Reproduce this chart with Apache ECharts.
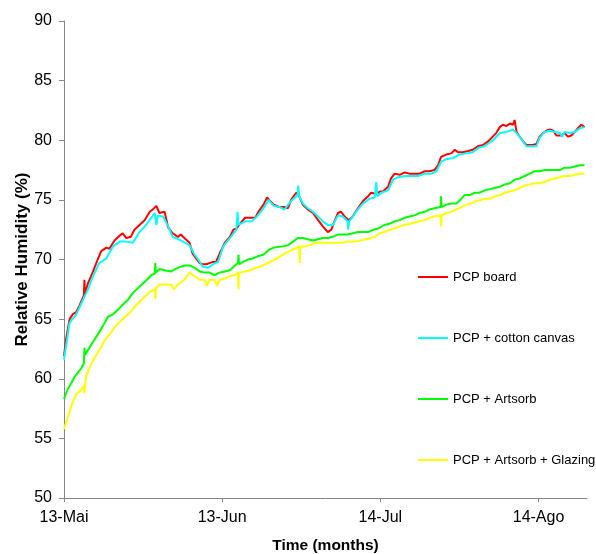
<!DOCTYPE html>
<html>
<head>
<meta charset="utf-8">
<script src="https://cdn.jsdelivr.net/npm/echarts@6/dist/echarts.min.js"></script>
<style>
html,body{margin:0;padding:0;background:#fff;}
#c{width:596px;height:554px;}
</style>
</head>
<body>
<div id="c"></div>
<script>
// x values are days since 13-Mai
var xTickDays = [0, 31, 62, 93];
var xTickLabels = ['13-Mai', '13-Jun', '14-Jul', '14-Ago'];
var seriesNames = ['PCP board', 'PCP + cotton canvas', 'PCP + Artsorb', 'PCP + Artsorb + Glazing'];

var redDays = [0.0,0.4,1.1,1.7,2.4,3.0,3.4,3.9,4.0,4.1,4.7,5.7,6.6,7.3,8.3,8.9,9.9,10.9,11.5,12.2,13.1,13.8,14.8,15.8,16.8,17.4,18.1,18.7,19.7,20.4,21.3,22.3,22.9,23.6,24.6,25.2,25.9,26.6,27.2,27.9,28.5,29.2,29.8,30.5,31.5,32.5,33.2,33.8,34.5,35.5,36.5,37.5,38.1,39.1,39.8,40.4,41.1,42.2,43.2,43.9,44.5,45.5,46.0,46.8,47.8,48.8,49.8,50.7,51.7,52.4,53.0,53.7,54.3,55.0,55.8,56.6,57.6,58.6,59.6,60.2,61.2,61.9,62.5,63.5,64.1,64.8,65.8,66.8,67.7,68.7,69.7,70.7,71.6,72.6,73.3,73.9,74.9,75.9,76.6,77.2,78.2,79.2,80.1,81.1,82.1,83.1,83.8,84.7,85.4,86.0,86.7,87.4,88.0,88.3,88.7,89.3,90.0,90.6,91.3,91.9,92.6,93.2,93.9,94.5,95.2,95.9,96.5,97.5,98.1,98.8,99.4,100.1,100.7,101.4,102.0];
var redRH = [61.9,63.3,65.0,65.4,65.6,66.1,66.5,67.0,68.3,67.1,68.0,69.0,70.0,70.7,71.0,70.9,71.6,72.0,72.2,71.8,71.9,72.5,72.9,73.3,74.0,74.2,74.5,73.9,74.0,72.7,72.2,71.9,72.1,71.8,71.4,70.5,70.1,69.7,69.6,69.6,69.7,69.8,69.8,70.5,71.4,71.9,72.5,72.6,73.0,73.5,73.5,73.5,74.0,74.6,75.2,74.9,74.6,74.4,74.4,74.3,75.0,75.6,75.4,74.6,74.2,73.9,73.3,72.8,72.3,72.5,73.2,73.9,74.0,73.6,73.3,73.6,74.3,74.9,75.3,75.6,75.5,75.7,75.7,76.1,76.8,77.2,77.1,77.3,77.2,77.2,77.2,77.4,77.4,77.5,77.9,78.6,78.8,78.9,79.2,79.0,79.0,79.1,79.2,79.5,79.6,79.9,80.2,80.6,81.1,81.3,81.2,81.4,81.3,81.7,80.7,80.3,79.9,79.6,79.6,79.6,79.7,80.3,80.6,80.8,80.9,80.8,80.4,80.4,80.6,80.3,80.4,80.7,81.0,81.3,81.1];

var cyanDays = [0.0,1.1,2.4,3.7,4.7,5.7,6.9,8.3,9.6,10.9,12.2,13.5,14.8,16.1,17.1,17.8,18.1,18.4,19.4,20.4,21.3,22.9,24.6,25.6,26.3,27.2,28.2,29.2,30.2,31.2,32.5,33.8,34.0,34.2,35.5,36.8,37.8,39.1,40.1,41.1,42.2,43.2,44.5,45.8,45.9,46.1,46.8,47.8,48.8,49.8,50.7,51.7,52.7,53.7,54.6,55.6,55.7,55.9,56.6,57.6,58.6,59.9,60.9,61.2,61.4,62.2,63.5,64.5,65.5,66.8,68.1,69.4,70.7,72.0,73.0,73.9,74.9,76.2,77.5,78.8,80.1,81.4,82.4,84.1,85.4,86.7,88.0,88.7,89.3,90.0,90.6,92.6,93.2,94.2,95.2,96.2,97.2,97.6,98.1,99.1,100.1,101.1,102.0];
var cyanRH = [61.6,64.7,65.4,66.6,67.5,68.6,69.7,70.1,71.1,71.5,71.5,71.4,72.3,72.9,73.5,73.9,72.9,73.7,73.6,72.8,71.9,71.6,71.2,70.4,70.0,69.4,69.3,69.6,69.8,71.1,71.8,72.5,74.0,72.9,73.2,73.2,73.6,74.3,75.0,74.5,74.4,74.2,74.9,75.4,76.2,75.3,74.7,74.3,74.0,73.6,73.2,72.9,72.9,73.7,73.6,73.2,72.5,73.2,73.6,74.2,74.7,75.1,75.2,76.5,75.3,75.6,75.8,76.7,76.9,77.0,77.0,77.0,77.2,77.2,77.4,78.2,78.4,78.5,78.8,78.9,79.0,79.4,79.5,80.0,80.6,80.7,80.9,80.6,80.3,79.9,79.5,79.5,80.2,80.7,80.8,80.7,80.6,80.3,80.7,80.6,80.7,81.0,81.1];

var greenDays = [0.0,0.7,1.4,2.1,2.7,3.4,3.9,4.0,4.1,4.7,5.7,6.6,7.6,8.6,9.6,10.6,11.5,12.5,13.5,14.5,15.5,16.5,17.1,17.8,17.9,18.0,18.7,19.7,21.0,22.3,23.6,24.6,25.6,26.6,27.6,28.5,29.5,30.5,31.5,32.5,33.5,34.1,34.2,34.3,35.1,36.1,37.1,38.1,39.1,40.1,41.1,42.9,43.9,44.9,45.8,46.8,47.8,48.8,49.8,50.7,51.7,52.7,53.7,54.6,55.6,56.6,57.6,58.6,59.6,60.6,61.6,62.8,63.8,64.8,65.8,66.8,67.7,68.7,69.7,70.7,71.6,72.6,73.8,73.9,74.0,74.9,75.9,76.9,77.9,78.5,79.5,80.5,81.4,82.5,83.5,84.4,85.4,86.4,87.4,88.3,89.3,90.3,91.3,92.2,93.2,94.2,95.2,96.2,97.2,98.1,99.1,100.1,101.1,102.0];
var greenRH = [58.3,59.1,59.6,60.2,60.5,60.9,61.3,62.6,62.0,62.4,63.1,63.7,64.4,65.2,65.4,65.8,66.2,66.6,67.2,67.6,68.0,68.4,68.7,68.8,69.7,68.9,69.2,69.1,69.0,69.3,69.5,69.5,69.3,69.0,68.9,68.9,68.7,68.9,69.0,69.1,69.5,69.7,70.4,69.6,69.8,70.0,70.1,70.3,70.4,70.8,71.0,71.1,71.2,71.5,71.8,71.8,71.7,71.6,71.7,71.8,71.8,71.9,72.1,72.1,72.1,72.2,72.3,72.3,72.3,72.5,72.6,72.9,73.0,73.2,73.3,73.5,73.6,73.7,73.9,74.0,74.2,74.3,74.4,75.3,74.4,74.6,74.7,74.7,75.1,75.4,75.4,75.6,75.6,75.8,75.9,76.0,76.1,76.3,76.4,76.7,76.8,77.0,77.2,77.4,77.4,77.5,77.5,77.5,77.5,77.7,77.7,77.8,77.9,77.9];

var yellowDays = [0.0,0.7,1.4,2.4,3.4,3.9,4.0,4.3,5.3,6.2,7.2,8.1,9.1,10.1,11.0,12.0,13.0,14.0,14.9,15.9,16.9,17.8,17.9,18.0,18.7,19.7,21.0,21.5,22.3,23.6,24.6,25.6,26.6,27.6,28.0,28.5,29.5,30.0,30.5,31.5,32.5,33.5,34.1,34.2,34.3,35.5,36.5,37.5,38.5,39.4,40.4,41.3,42.2,43.2,44.2,45.2,46.1,46.2,46.3,47.1,48.1,49.4,50.7,52.0,53.2,54.5,55.6,56.9,58.0,59.3,60.9,61.9,62.8,63.8,64.8,65.8,66.8,67.7,68.7,69.7,70.7,71.6,72.6,73.8,73.9,74.0,74.9,75.9,76.9,77.9,78.8,79.8,80.8,81.8,82.5,83.5,84.4,85.4,86.4,87.4,88.3,89.3,90.3,91.3,92.2,93.2,94.2,95.2,96.2,97.2,98.1,99.1,100.1,101.1,102.0];
var yellowRH = [55.8,56.7,57.7,58.7,59.1,59.4,58.8,60.2,61.2,61.9,62.6,63.3,63.8,64.4,64.8,65.2,65.6,66.1,66.5,66.9,67.3,67.5,66.7,67.6,67.9,67.9,67.9,67.5,67.9,68.3,68.9,68.6,68.3,68.3,67.8,68.3,68.3,67.8,68.3,68.4,68.6,68.7,68.9,67.5,68.9,69.0,69.1,69.3,69.4,69.6,69.8,70.0,70.2,70.5,70.7,70.9,71.1,69.7,71.1,71.1,71.2,71.4,71.4,71.4,71.4,71.4,71.5,71.5,71.6,71.7,71.9,72.2,72.3,72.5,72.6,72.8,72.9,73.0,73.1,73.2,73.3,73.5,73.6,73.7,72.8,73.7,73.9,74.0,74.2,74.4,74.6,74.7,74.9,75.0,75.1,75.1,75.3,75.4,75.6,75.7,75.8,76.0,76.2,76.3,76.4,76.4,76.5,76.7,76.8,76.9,77.0,77.0,77.1,77.2,77.2];

function pairs(xs, ys) {
  var out = [];
  for (var i = 0; i < xs.length; i++) out.push([xs[i], ys[i]]);
  return out;
}

var FONT = "'Liberation Sans', Arial, sans-serif";
var chart = echarts.init(document.getElementById('c'), null, {renderer: 'canvas'});
var colors = ['#FF0000', '#00FFFF', '#00FF00', '#FFFF00'];
var dataSets = [pairs(redDays, redRH), pairs(cyanDays, cyanRH), pairs(greenDays, greenRH), pairs(yellowDays, yellowRH)];

chart.setOption({
  animation: false,
  backgroundColor: '#ffffff',
  color: colors,
  grid: {left: 64, top: 21, width: 523, height: 477, containLabel: false, outerBoundsMode: 'none'},
  legend: {
    orient: 'vertical',
    left: 413,
    top: 265,
    itemWidth: 30,
    itemHeight: 2,
    itemGap: 47,
    icon: 'rect',
    textStyle: {fontFamily: FONT, fontSize: 13, color: '#000', lineHeight: 14},
    data: seriesNames
  },
  xAxis: {
    type: 'value',
    min: 0,
    max: 102.5,
    interval: 31,
    name: 'Time (months)',
    nameLocation: 'middle',
    nameGap: 40,
    nameTextStyle: {fontFamily: FONT, fontSize: 15.5, fontWeight: 'bold', color: '#000'},
    splitLine: {show: false},
    axisLine: {lineStyle: {color: '#868686', width: 1}},
    axisTick: {show: true, length: 4, lineStyle: {color: '#868686'}, customValues: xTickDays},
    axisLabel: {
      fontFamily: FONT, fontSize: 16, color: '#000', margin: 12,
      customValues: xTickDays,
      formatter: function (v) {
        var i = xTickDays.indexOf(Math.round(v));
        return i >= 0 ? xTickLabels[i] : '';
      }
    }
  },
  yAxis: {
    type: 'value',
    min: 50,
    max: 90,
    interval: 5,
    name: 'Relative Humidity (%)',
    nameLocation: 'middle',
    nameGap: 33,
    nameMoveOverlap: false,
    nameTextStyle: {fontFamily: FONT, fontSize: 17, fontWeight: 'bold', color: '#000'},
    splitLine: {show: false},
    axisLine: {show: true, lineStyle: {color: '#868686', width: 1}},
    axisTick: {show: true, length: 5, lineStyle: {color: '#868686'}},
    axisLabel: {fontFamily: FONT, fontSize: 16, color: '#000', margin: 12}
  },
  series: seriesNames.map(function (n, i) {
    return {
      name: n,
      type: 'line',
      data: dataSets[i],
      showSymbol: false,
      symbol: 'none',
      lineStyle: {width: 2, color: colors[i]},
      itemStyle: {color: colors[i]}
    };
  })
});
</script>
</body>
</html>
